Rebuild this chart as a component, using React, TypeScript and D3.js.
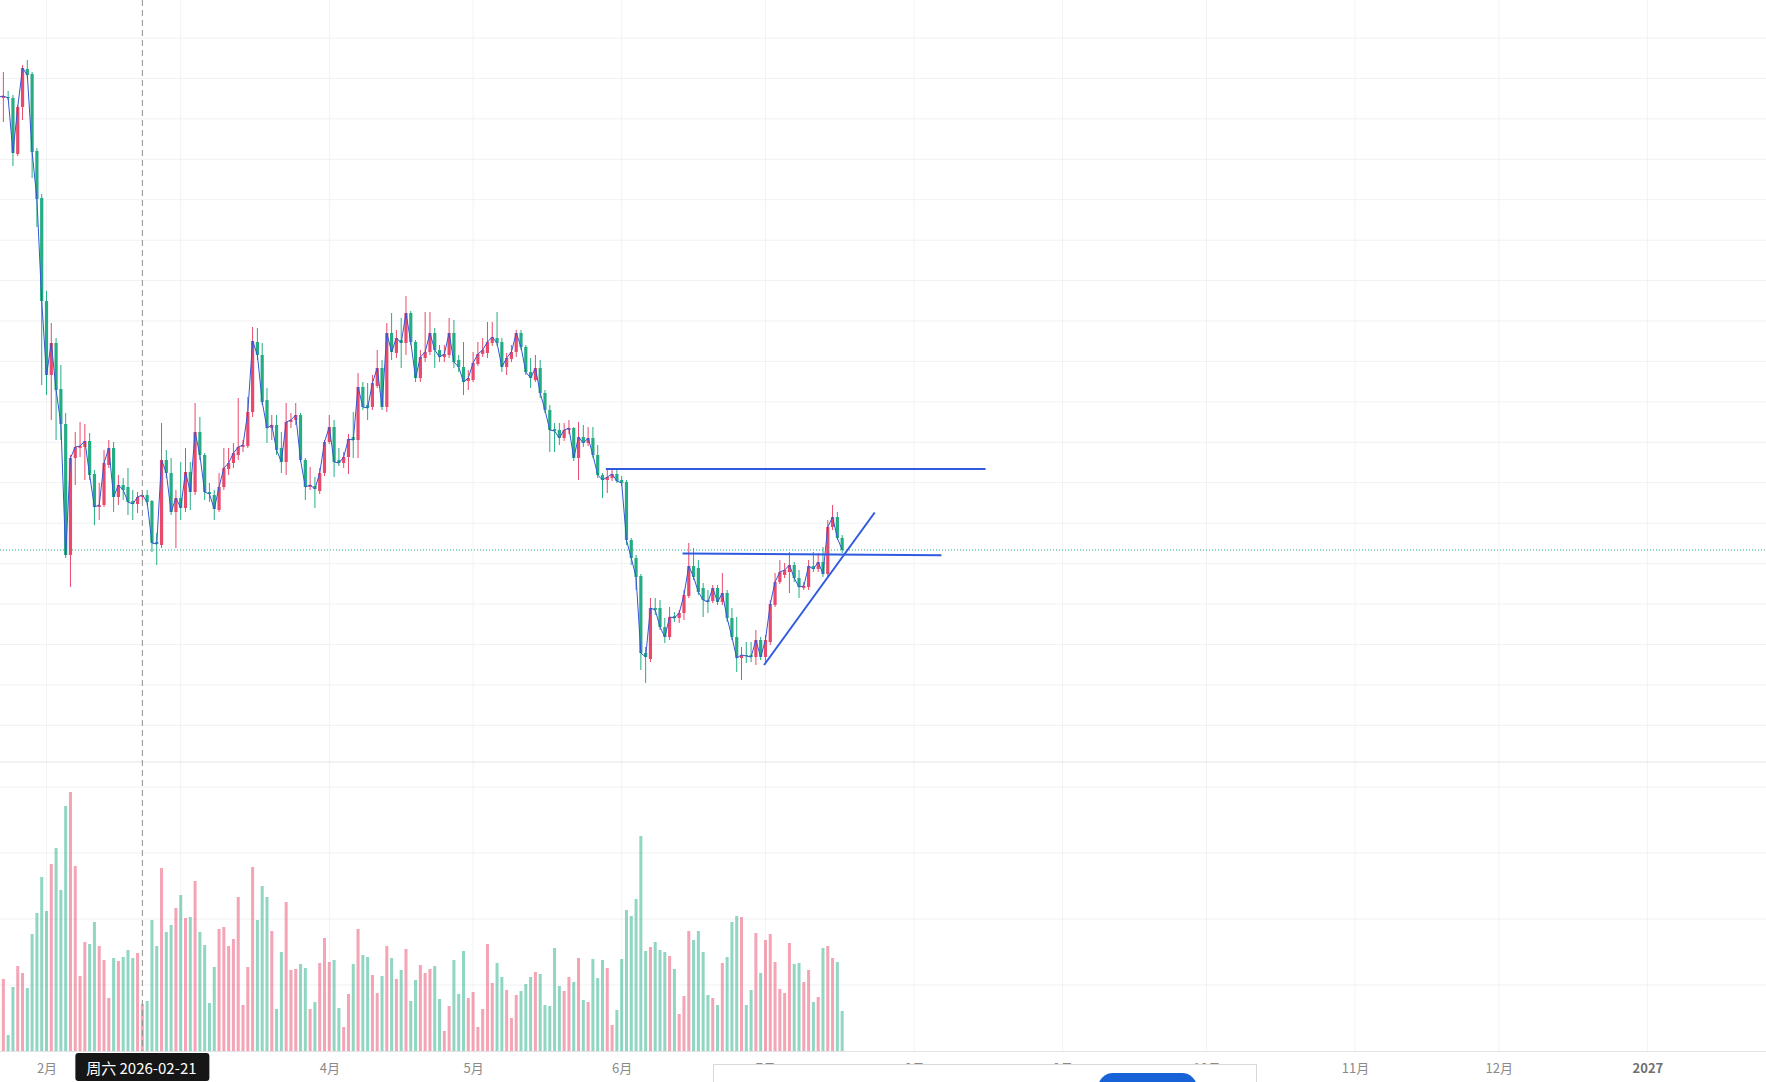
import React, { useEffect, useRef } from 'react'
import * as d3 from 'd3'

const W = 1766
const H = 1082

const firstDay = '2026-01-22'

const opens = [
  90.4, 90.2, 90.3, 90.2, 84.6, 89.3, 93.1, 92.6, 84.9, 80.2,
  69.9, 62.5, 65.7, 61.1, 57.6, 44.5, 54.2, 55.2, 55.3, 55.9,
  52.6, 49.3, 49.5, 53.5, 55.2, 50.3, 51.5, 51.3, 49.9, 49.6,
  50.3, 50.5, 49.9, 45.8, 45.5, 54.0, 52.7, 48.8, 50.2, 49.2,
  52.8, 50.8, 56.8, 54.5, 50.8, 50.5, 49.0, 51.3, 53.1, 53.7,
  54.5, 55.3, 55.4, 58.8, 65.8, 64.5, 60.0, 57.2, 57.5, 55.2,
  53.8, 57.8, 58.0, 58.5, 54.0, 51.3, 51.4, 50.9, 52.7, 55.8,
  57.3, 54.0, 53.7, 54.3, 56.3, 56.0, 61.3, 59.5, 59.3, 61.4,
  63.2, 59.3, 66.7, 64.7, 66.0, 65.7, 68.7, 65.8, 62.2, 64.2,
  64.8, 66.7, 65.0, 64.3, 64.5, 66.7, 64.0, 63.3, 61.9, 62.0,
  63.6, 64.6, 64.7, 65.7, 66.2, 65.8, 63.3, 64.1, 64.8, 66.7,
  65.3, 62.8, 62.0, 63.2, 60.7, 59.0, 57.1, 57.0, 56.2, 57.0,
  57.2, 54.2, 56.3, 55.7, 56.2, 54.5, 52.5, 52.0, 52.2, 52.6,
  52.0, 51.8, 46.0, 44.2, 42.4, 34.7, 34.1, 39.2, 39.2, 37.3,
  36.3, 38.4, 38.2, 38.7, 40.4, 43.4, 43.2, 41.2, 40.0, 39.9,
  41.2, 39.8, 40.7, 38.2, 36.3, 34.2, 34.5, 34.5, 34.3, 36.0,
  34.3, 35.8, 39.5, 41.8, 42.5, 42.8, 43.5, 42.2, 41.2, 41.3,
  43.4, 43.1, 43.8, 42.6, 47.3, 48.3, 46.2,
]

const highs = [
  90.7, 92.8, 90.9, 90.5, 89.5, 93.5, 94.0, 92.8, 85.2, 80.6,
  70.9, 67.7, 66.2, 63.5, 58.7, 54.5, 56.8, 57.8, 57.6, 56.7,
  53.0, 51.7, 55.0, 56.0, 55.8, 52.5, 52.2, 53.2, 51.0, 50.8,
  51.0, 51.0, 50.0, 46.7, 57.7, 55.0, 54.2, 51.0, 53.8, 55.2,
  53.8, 59.7, 58.3, 54.7, 51.7, 51.0, 52.7, 55.2, 55.2, 55.7,
  60.2, 56.0, 60.3, 67.3, 67.2, 65.7, 61.2, 58.5, 58.5, 56.8,
  59.7, 58.7, 59.7, 58.7, 54.2, 53.3, 52.3, 53.2, 56.0, 58.5,
  58.0, 55.2, 54.8, 56.6, 58.8, 62.7, 61.8, 61.7, 62.5, 65.0,
  64.0, 67.7, 68.7, 67.0, 68.2, 70.4, 68.9, 66.0, 65.0, 68.8,
  68.8, 67.2, 65.5, 65.5, 68.2, 68.0, 64.5, 65.8, 63.0, 64.8,
  65.8, 66.2, 67.8, 67.8, 68.8, 66.2, 64.7, 65.5, 67.0, 67.0,
  65.5, 64.2, 64.5, 64.0, 61.0, 59.5, 57.7, 57.7, 57.7, 58.0,
  57.3, 57.8, 57.5, 57.3, 57.3, 55.5, 52.7, 53.0, 53.2, 53.2,
  52.4, 52.0, 46.2, 44.5, 42.6, 35.3, 40.2, 40.2, 40.0, 38.2,
  39.3, 38.8, 39.0, 41.0, 45.7, 45.2, 44.0, 41.7, 41.0, 41.5,
  41.5, 42.7, 41.0, 39.2, 38.3, 35.3, 35.8, 35.8, 37.0, 36.3,
  36.5, 40.0, 42.7, 44.0, 43.7, 44.8, 43.8, 43.0, 41.8, 44.0,
  44.8, 44.7, 45.3, 48.0, 49.5, 48.8, 46.5,
]

const lows = [
  90.0, 87.8, 90.0, 83.4, 84.4, 88.0, 92.2, 82.2, 77.3, 61.5,
  60.5, 58.0, 56.0, 56.0, 44.2, 41.3, 51.5, 54.3, 52.0, 52.0,
  47.5, 48.0, 49.3, 53.2, 48.8, 49.5, 50.0, 48.5, 48.0, 48.7,
  50.0, 49.5, 44.8, 43.5, 45.2, 52.2, 48.5, 45.2, 48.0, 48.8,
  49.0, 50.5, 54.0, 50.0, 49.8, 48.0, 48.8, 51.0, 52.5, 53.2,
  54.0, 54.8, 55.2, 58.3, 64.0, 59.5, 55.7, 56.0, 54.5, 52.7,
  52.5, 57.2, 57.5, 53.8, 50.0, 51.0, 49.2, 50.6, 52.4, 55.6,
  52.3, 53.4, 53.2, 52.6, 54.2, 54.2, 59.0, 58.0, 59.0, 61.2,
  59.0, 58.8, 64.0, 64.2, 63.2, 64.5, 65.5, 61.8, 61.8, 63.8,
  64.5, 63.2, 63.8, 63.8, 64.2, 63.2, 62.8, 60.5, 61.0, 61.8,
  63.4, 64.3, 64.2, 65.4, 65.4, 62.8, 62.5, 63.8, 64.3, 65.0,
  62.5, 61.2, 61.8, 60.2, 58.7, 54.8, 54.8, 55.5, 55.9, 56.6,
  53.9, 52.0, 55.3, 55.4, 54.2, 52.2, 50.2, 50.7, 51.9, 51.7,
  51.4, 45.5, 43.5, 41.0, 33.0, 31.7, 33.8, 38.5, 37.0, 35.7,
  36.0, 37.8, 37.7, 38.0, 40.2, 42.0, 40.5, 38.3, 38.7, 39.7,
  39.5, 39.5, 37.8, 36.0, 32.8, 32.0, 33.7, 33.8, 33.5, 34.0,
  33.8, 35.5, 39.3, 41.6, 42.2, 40.7, 41.8, 40.2, 41.0, 41.0,
  42.8, 42.8, 42.3, 42.3, 47.0, 46.0, 44.7,
]

const closes = [
  90.3, 90.4, 90.2, 84.7, 89.3, 93.2, 92.5, 84.8, 80.1, 69.9,
  62.5, 65.7, 61.0, 57.6, 44.5, 54.2, 55.3, 55.4, 55.9, 52.5,
  49.3, 49.5, 53.7, 55.2, 50.3, 51.5, 51.0, 49.8, 49.6, 50.3,
  50.5, 49.8, 45.7, 45.6, 54.0, 52.7, 48.8, 50.2, 49.2, 52.8,
  50.8, 56.8, 54.5, 50.8, 50.6, 49.1, 51.3, 53.2, 53.7, 54.7,
  55.3, 55.5, 58.8, 65.9, 64.5, 59.8, 57.2, 57.5, 55.0, 53.8,
  57.8, 58.0, 58.5, 54.0, 51.3, 51.5, 51.1, 52.7, 55.8, 57.3,
  53.8, 53.7, 54.3, 56.1, 56.0, 61.3, 59.3, 59.2, 61.7, 63.2,
  59.3, 66.7, 64.8, 66.2, 65.7, 68.7, 65.8, 62.2, 64.3, 64.8,
  66.7, 65.0, 64.3, 64.6, 66.7, 63.8, 63.3, 61.8, 62.2, 63.7,
  64.6, 65.0, 65.8, 66.3, 65.7, 63.3, 64.2, 64.8, 66.7, 65.3,
  62.8, 62.2, 63.2, 60.7, 59.0, 57.0, 56.9, 56.2, 57.0, 57.2,
  54.2, 56.3, 55.7, 56.2, 54.5, 52.5, 52.0, 52.3, 52.6, 51.9,
  51.7, 46.0, 44.2, 42.3, 34.7, 34.3, 39.2, 39.0, 37.3, 36.3,
  38.3, 38.2, 38.7, 40.5, 43.4, 42.3, 40.8, 40.0, 39.8, 41.2,
  39.8, 40.7, 38.2, 36.3, 34.2, 34.5, 34.4, 34.3, 36.0, 34.3,
  36.0, 39.6, 41.8, 42.8, 43.0, 43.5, 42.2, 41.3, 41.4, 43.4,
  43.1, 43.8, 42.6, 47.3, 48.3, 46.2, 45.0,
]

const volumes = [
  40, 72, 16, 64, 85, 78, 63, 117, 138, 174,
  140, 187, 203, 161, 245, 259, 185, 75, 109, 107,
  129, 105, 91, 53, 93, 90, 94, 101, 93, 98,
  47, 50, 131, 105, 183, 119, 126, 143, 156, 133,
  134, 170, 119, 106, 48, 84, 122, 124, 105, 112,
  154, 46, 84, 184, 131, 165, 154, 120, 42, 99,
  149, 81, 82, 87, 83, 42, 49, 88, 113, 89,
  91, 43, 24, 57, 87, 122, 96, 94, 76, 58,
  75, 105, 93, 72, 81, 102, 50, 71, 86, 78,
  82, 85, 52, 20, 45, 91, 57, 100, 53, 59,
  24, 42, 107, 68, 88, 74, 61, 33, 56, 60,
  67, 74, 79, 77, 46, 45, 103, 65, 60, 74,
  69, 93, 51, 49, 92, 73, 91, 83, 26, 41,
  92, 141, 135, 152, 215, 100, 104, 109, 101, 99,
  95, 82, 37, 55, 120, 111, 120, 99, 56, 53,
  46, 88, 94, 129, 135, 134, 46, 61, 118, 78,
  111, 117, 89, 62, 58, 108, 87, 88, 69, 81,
  49, 54, 103, 105, 93, 89, 40,
]

// faint horizontal grid of the price pane and of the volume pane
const priceGrid = [96.2, 92.16, 88.11, 84.07, 80.03, 75.98, 71.94, 67.9, 63.86, 59.81, 55.77, 51.73, 47.68, 43.64, 39.6, 35.55, 31.51, 27.47]
const volumeGrid = [66, 132, 198, 264]

// hand drawn lines: [time, price] -> [time, price]
const drawnLines = [
  { t0: '2026-05-28T17:00Z', p0: 53.1, t1: '2026-08-15T22:00Z', p1: 53.1 },
  { t0: '2026-06-13T17:00Z', p0: 44.65, t1: '2026-08-06T17:00Z', p1: 44.47 },
  { t0: '2026-06-30T17:00Z', p0: 33.5, t1: '2026-07-23T19:00Z', p1: 48.75 },
]

const crosshairDay = '2026-02-21'
const crosshairText = '周六 2026-02-21'

const upColor = '#e9496b'
const downColor = '#24ad85'
const lineBlue = '#2e5be0'
const font = '"Noto Sans CJK SC", "Noto Sans", sans-serif'

const App = () => {
  const ref = useRef(null)

  useEffect(() => {
    const svg = d3.select(ref.current)
    svg.selectAll('*').remove()

    const start = new Date(firstDay)
    const dates = d3.utcDay.range(start, d3.utcDay.offset(start, closes.length))
    const bars = dates.map((date, i) => ({
      date,
      open: opens[i],
      high: highs[i],
      low: lows[i],
      close: closes[i],
      volume: volumes[i],
      up: closes[i] >= opens[i],
    }))

    const x = d3.scaleUtc()
      .domain([new Date('2026-02-01'), new Date('2027-01-01')])
      .range([46.5, 1647.4])
    const y = d3.scaleLinear().domain([0, 100]).range([1000, 0])
    const yVol = d3.scaleLinear().domain([0, 289]).range([1051, 762])
    const months = d3.utcMonth.range(new Date('2026-02-01'), new Date('2027-01-02'))
    const cx = x(new Date(crosshairDay))

    svg.append('rect').attr('width', W).attr('height', H).attr('fill', '#fff')

    svg.append('clipPath').attr('id', 'pane')
      .append('rect').attr('x', 0).attr('y', 0).attr('width', W).attr('height', 762)

    // grid
    const grid = svg.append('g')
    grid.selectAll('.vg').data(months).enter().append('line')
      .attr('x1', d => x(d)).attr('x2', d => x(d))
      .attr('y1', 0).attr('y2', 1051)
      .attr('stroke', '#f2f3f5')
    grid.selectAll('.hg').data(priceGrid).enter().append('line')
      .attr('x1', 0).attr('x2', W)
      .attr('y1', d => y(d)).attr('y2', d => y(d))
      .attr('stroke', '#f0f1f3')
    grid.selectAll('.vol').data(volumeGrid).enter().append('line')
      .attr('x1', 0).attr('x2', W)
      .attr('y1', d => yVol(d)).attr('y2', d => yVol(d))
      .attr('stroke', '#f0f1f3')
    svg.append('line').attr('x1', 0).attr('x2', W).attr('y1', 762).attr('y2', 762)
      .attr('stroke', '#e4e5e8')
    svg.append('line').attr('x1', 0).attr('x2', W).attr('y1', 1051.5).attr('y2', 1051.5)
      .attr('stroke', '#e2e3e6')

    // volume
    svg.append('g').selectAll('rect').data(bars).enter().append('rect')
      .attr('x', d => x(d.date) - 1.5)
      .attr('width', 3)
      .attr('y', d => yVol(d.volume))
      .attr('height', d => yVol(0) - yVol(d.volume))
      .attr('fill', d => d.up ? upColor : downColor)
      .attr('fill-opacity', 0.5)

    const pane = svg.append('g').attr('clip-path', 'url(#pane)')

    // candles
    const candle = pane.append('g').selectAll('g').data(bars).enter().append('g')
    candle.append('line')
      .attr('x1', d => x(d.date)).attr('x2', d => x(d.date))
      .attr('y1', d => y(d.high)).attr('y2', d => y(d.low))
      .attr('stroke', d => d.up ? upColor : downColor)
      .attr('stroke-width', 1)
    candle.append('rect')
      .attr('x', d => x(d.date) - 1.6)
      .attr('width', 3.2)
      .attr('y', d => y(Math.max(d.open, d.close)))
      .attr('height', d => Math.max(1, Math.abs(y(d.open) - y(d.close))))
      .attr('fill', d => d.up ? upColor : downColor)

    // close line
    pane.append('path').datum(bars)
      .attr('d', d3.line().x(d => x(d.date)).y(d => y(d.close)))
      .attr('fill', 'none')
      .attr('stroke', '#3555d4')
      .attr('stroke-width', 1)

    // last price
    const last = bars[bars.length - 1]
    pane.append('line')
      .attr('x1', 0).attr('x2', W)
      .attr('y1', y(last.close)).attr('y2', y(last.close))
      .attr('stroke', last.up ? upColor : downColor)
      .attr('stroke-dasharray', '1,2')

    // drawn lines
    pane.append('g').selectAll('line').data(drawnLines).enter().append('line')
      .attr('x1', d => x(new Date(d.t0))).attr('y1', d => y(d.p0))
      .attr('x2', d => x(new Date(d.t1))).attr('y2', d => y(d.p1))
      .attr('stroke', lineBlue)
      .attr('stroke-width', 2)

    // crosshair
    svg.append('line')
      .attr('x1', cx).attr('x2', cx).attr('y1', 0).attr('y2', 1051)
      .attr('stroke', '#8f8f8f')
      .attr('stroke-dasharray', '6,4')

    // time axis, labels under the crosshair label are hidden
    const axis = d3.axisBottom(x)
      .tickValues(months.filter(d => Math.abs(x(d) - cx) > 80))
      .tickSize(0)
      .tickPadding(13)
      .tickFormat(d => d.getUTCMonth() === 0 ? String(d.getUTCFullYear()) : `${d.getUTCMonth() + 1}月`)
    const ax = svg.append('g').attr('transform', 'translate(0,1051)').call(axis)
    ax.select('.domain').remove()
    ax.selectAll('text')
      .attr('fill', d => d.getUTCMonth() === 0 ? '#6f6f6f' : '#8a8a8a')
      .style('font-size', '13px')
      .style('font-family', font)
      .style('font-weight', d => d.getUTCMonth() === 0 ? 'bold' : 'normal')

    // crosshair time label
    const tip = svg.append('g')
    tip.append('rect')
      .attr('x', cx - 67).attr('y', 1053)
      .attr('width', 134).attr('height', 28)
      .attr('rx', 3)
      .attr('fill', '#161616')
    tip.append('text')
      .attr('x', cx - 1).attr('y', 1067.5)
      .attr('text-anchor', 'middle')
      .attr('dominant-baseline', 'central')
      .attr('fill', '#fff')
      .style('font-size', '15px')
      .style('font-family', font)
      .text(crosshairText)

    // panel over the bottom of the axis
    svg.append('rect')
      .attr('x', 713.5).attr('y', 1064.5)
      .attr('width', 543).attr('height', 30)
      .attr('fill', '#fff')
      .attr('stroke', '#d8d9dc')
    svg.append('rect')
      .attr('x', 1098).attr('y', 1073)
      .attr('width', 99).attr('height', 30)
      .attr('rx', 15)
      .attr('fill', '#1762d6')
  }, [])

  return (
    <svg
      ref={ref}
      width={W}
      height={H}
      style={{ position: 'fixed', left: 0, top: 0, display: 'block' }}
    />
  )
}

export default App
